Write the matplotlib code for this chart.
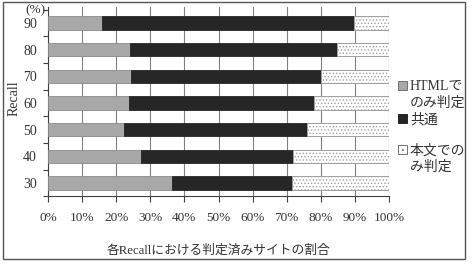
import matplotlib
matplotlib.use("Agg")
import matplotlib.pyplot as plt
from matplotlib.patches import Rectangle
import numpy as np

plt.rcParams["font.family"] = ["Liberation Serif", "Noto Sans CJK JP"]
plt.rcParams["hatch.linewidth"] = 0.6

recall = ["30", "40", "50", "60", "70", "80", "90"]
html_only = [36.3, 27.3, 22.4, 23.7, 24.3, 24.0, 15.7]
common = [35.3, 44.5, 53.5, 54.4, 55.7, 60.8, 74.1]
body_only = [28.4, 28.2, 24.1, 21.9, 20.0, 15.2, 10.2]

labels = ["HTMLで\nのみ判定", "共通", "本文での\nみ判定"]
TXT = "#333333"

fig = plt.figure(figsize=(4.72, 2.69), dpi=100)
ax = fig.add_axes([0.1017, 0.2703, 0.7225, 0.7037])

y = np.arange(len(recall))
h = 0.5
left = np.zeros(len(recall))
ax.barh(y, html_only, height=h, left=left, color="#a8a8a8", edgecolor="#8a8a8a",
        linewidth=0.6, zorder=3)
left += np.array(html_only)
ax.barh(y, common, height=h, left=left, color="#262626", edgecolor="#262626",
        linewidth=0.6, zorder=3)
left += np.array(common)
ax.barh(y, body_only, height=h, left=left, color="white", edgecolor="#a0a0a0",
        hatch=".....", linewidth=0.7, zorder=3)

ax.set_xlim(0, 100)
ax.set_ylim(-0.5, 6.6)
ax.set_xticks(np.arange(0, 101, 10))
ax.set_xticklabels([f"{v}%" for v in range(0, 101, 10)])
ax.set_yticks(y)
ax.set_yticklabels(recall)
ax.set_yticks(np.arange(-0.5, 6.6, 1), minor=True)
ax.tick_params(axis="y", which="major", length=0, pad=8, labelsize=10, colors=TXT)
ax.tick_params(axis="y", which="minor", length=3.5, width=0.8, color="#404040")
ax.tick_params(axis="x", which="major", length=4, width=0.8, pad=7, labelsize=9.5,
               colors=TXT, color="#404040")
ax.grid(axis="x", color="#808080", linewidth=0.8, zorder=0)
for s in ["top", "right"]:
    ax.spines[s].set_visible(False)
for s in ["left", "bottom"]:
    ax.spines[s].set_color("#404040")
    ax.spines[s].set_linewidth(0.8)

ax.set_ylabel("Recall", fontsize=10, color=TXT)
ax.yaxis.set_label_coords(-0.08, 0.52)
ax.set_xlabel("各Recallにおける判定済みサイトの割合", fontsize=9.2, color=TXT, labelpad=15)
fig.text(35 / 472, 1 - 10 / 269, "(%)", fontsize=9.5, color=TXT, ha="center", va="center")

# legend drawn by hand (markers sit on the first line of each label)
leg_y = [85, 118, 149]
styles = [dict(facecolor="#a8a8a8", edgecolor="#707070"),
          dict(facecolor="#262626", edgecolor="#262626"),
          dict(facecolor="white", edgecolor="#707070", hatch="...")]
for ly, lab, st in zip(leg_y, labels, styles):
    fig.patches.append(Rectangle((398 / 472, 1 - (ly + 5) / 269), 9 / 472, 9 / 269,
                                 transform=fig.transFigure, linewidth=0.7, **st))
    fig.text(410 / 472, 1 - (ly - 5) / 269, lab, fontsize=10, color=TXT,
             ha="left", va="top", linespacing=1.3)

# outer frame
fig.patches.append(Rectangle((3 / 472, 1 - 259 / 269), 462 / 472, 257 / 269,
                             transform=fig.transFigure, fill=False,
                             edgecolor="#555555", linewidth=1.0))

fig.savefig("out.png", dpi=100)
